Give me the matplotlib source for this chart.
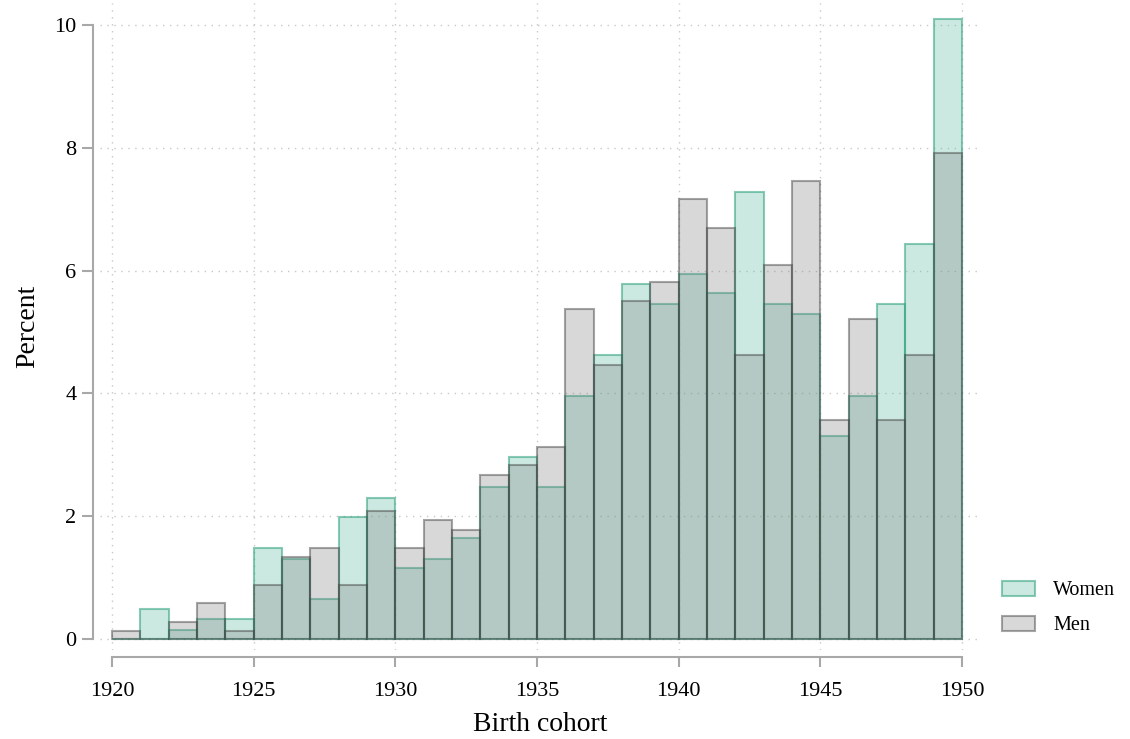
import matplotlib
matplotlib.use('Agg')
import matplotlib.pyplot as plt
from matplotlib.colors import to_rgba
from matplotlib.patches import Patch

plt.rcParams['font.family'] = ['Liberation Serif', 'DejaVu Serif']

# birth cohort bins (one year each), percent per group
years = list(range(1920, 1950))
men = [0.13, 0.00, 0.28, 0.58, 0.13, 0.88, 1.33, 1.48, 0.88, 2.08,
       1.48, 1.93, 1.77, 2.67, 2.83, 3.12, 5.37, 4.47, 5.50, 5.82,
       7.16, 6.70, 4.63, 6.10, 7.46, 3.57, 5.22, 3.57, 4.63, 7.91]
women = [0.00, 0.48, 0.15, 0.32, 0.32, 1.48, 1.31, 0.65, 1.98, 2.30,
         1.15, 1.31, 1.65, 2.47, 2.97, 2.47, 3.96, 4.62, 5.79, 5.45,
         5.95, 5.63, 7.28, 5.45, 5.29, 3.31, 3.96, 5.46, 6.44, 10.10]

xticks = [1920, 1925, 1930, 1935, 1940, 1945, 1950]
yticks = [0, 2, 4, 6, 8, 10]

men_face = to_rgba('#7f7f7f', 0.3)
men_edge = to_rgba('#3a3a3a', 0.45)
women_face = to_rgba('#58b99e', 0.3)
women_edge = to_rgba('#2a9f7c', 0.55)

fig = plt.figure(figsize=(11.3, 7.39), dpi=100)
ax = fig.add_axes([100/1130, 1 - 650/739, 880/1130, 647/739])

ax.bar(years, women, width=1, align='edge', facecolor=women_face,
       edgecolor=women_edge, linewidth=1.5, zorder=2)
ax.bar(years, men, width=1, align='edge', facecolor=men_face,
       edgecolor=men_edge, linewidth=1.5, zorder=3)

ax.set_xlim(1919.58, 1950.64)
ax.set_ylim(-0.18, 10.36)
ax.set_xticks(xticks)
ax.set_yticks(yticks)
ax.grid(True, linestyle=(0, (1, 4)), color='#c8c8c8', linewidth=1, zorder=0)

for s in ['top', 'right']:
    ax.spines[s].set_visible(False)
ax.spines['left'].set_position(('outward', 5))
ax.spines['bottom'].set_position(('outward', 5))
ax.spines['left'].set_bounds(0, 10)
ax.spines['bottom'].set_bounds(1920, 1950)
for s in ['left', 'bottom']:
    ax.spines[s].set_color('#a8a8a8')
    ax.spines[s].set_linewidth(1.5)
ax.tick_params(axis='y', colors='#a8a8a8', length=8, width=1.5,
               labelcolor='black', labelsize=16, pad=4)
ax.tick_params(axis='x', colors='#a8a8a8', length=7, width=1.5,
               labelcolor='black', labelsize=16, pad=11)

ax.set_xlabel('Birth cohort', fontsize=20, labelpad=8)
ax.set_ylabel('Percent', fontsize=20, labelpad=10)

handles = [Patch(facecolor=women_face, edgecolor=women_edge, linewidth=1.5, label='Women'),
           Patch(facecolor=men_face, edgecolor=men_edge, linewidth=1.5, label='Men')]
fig.legend(handles=handles, loc='center left', bbox_to_anchor=(984/1130, 1 - 608/739),
           frameon=False, fontsize=14.5, handlelength=1.65, handleheight=0.8,
           labelspacing=0.75, handletextpad=0.9)

fig.savefig('out.png', dpi=100)
